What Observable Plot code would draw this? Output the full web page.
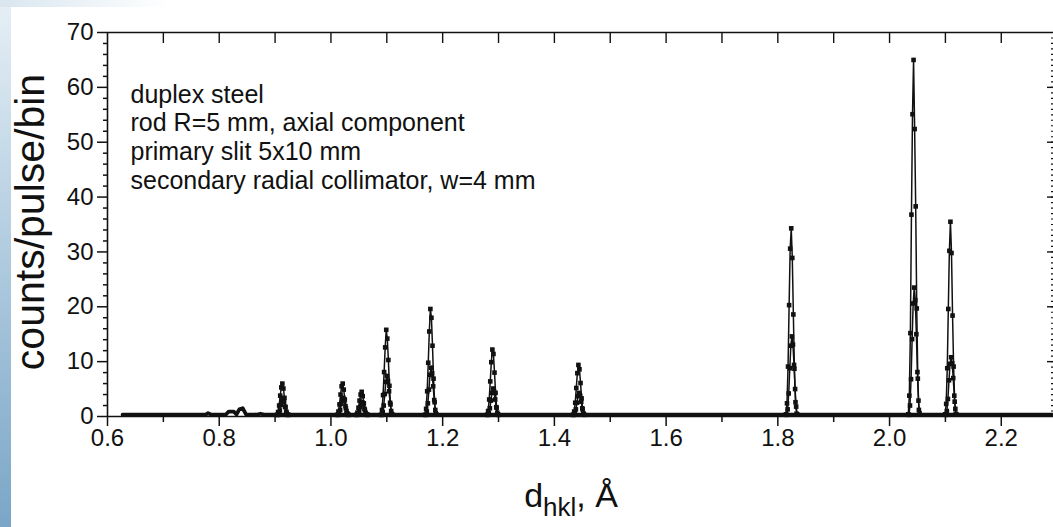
<!DOCTYPE html>
<html><head><meta charset="utf-8">
<script src="https://cdn.jsdelivr.net/npm/d3@7"></script>
<script src="https://cdn.jsdelivr.net/npm/@observablehq/plot@0.6"></script>
<style>
html,body{margin:0;padding:0;background:#fff;}
#wrap{position:relative;width:1053px;height:527px;overflow:hidden;}
#chart{position:absolute;left:0;top:0;}
#strip{position:absolute;left:0;top:0;width:11px;height:527px;background:linear-gradient(#e6eff5,#b9d1e3 40%,#7aa6c7);}
#topstrip{position:absolute;left:0;top:0;width:170px;height:7px;background:linear-gradient(90deg,#d9e6ef,rgba(255,255,255,0));}
</style></head>
<body><div id="wrap"><div id="chart"></div><div id="strip"></div><div id="topstrip"></div></div>
<script>
// ---- tick labels / axes ----
const xTicksMajor = [0.6, 0.8, 1.0, 1.2, 1.4, 1.6, 1.8, 2.0, 2.2];
const xTicksMinor = [0.7, 0.9, 1.1, 1.3, 1.5, 1.7, 1.9, 2.1];
const xTicksTop = [0.7, 0.8, 0.9, 1.0, 1.1, 1.2, 1.3, 1.4, 1.5, 1.6, 1.7, 1.8, 1.9, 2.0, 2.1, 2.2];
const yTicksMajor = [0, 10, 20, 30, 40, 50, 60, 70];
const yTicksMinor = [2, 4, 6, 8, 12, 14, 16, 18, 22, 24, 26, 28, 32, 34, 36, 38, 42, 44, 46, 48, 52, 54, 56, 58, 62, 64, 66, 68];
const yTicksRightMinor = d3.range(1, 70, 1);

const xLabelMain = "d", xLabelSub = "hkl", xLabelTail = ", Å";
const yLabel = "counts/pulse/bin";
const annotationLines = [
  "duplex steel",
  "rod R=5 mm, axial component",
  "primary slit 5x10 mm",
  "secondary radial collimator, w=4 mm"
];

// ---- data ----
// background level between reflections (d, counts)
const backgroundD =      [0.627, 0.776, 0.780, 0.785, 0.812, 0.817, 0.826, 0.831, 0.836, 0.842, 0.848, 0.868, 0.874, 0.880, 2.2935];
const backgroundCounts = [0.35,  0.35,  0.6,   0.35,  0.35,  0.9,   0.9,   0.4,   1.3,   1.5,   0.4,   0.35,  0.5,   0.35,  0.35];

// peak bins (bin width in d), centre bin is index 5
const binWidth = 0.0019;
const peakCenters = [0.913, 1.021, 1.055, 1.099, 1.178, 1.289, 1.443, 1.824, 2.043, 2.109];

// scan A counts per bin
const scanA = [
  [0.3, 0.8, 2.0, 3.8, 5.3, 6.0, 5.1, 3.4, 1.7, 0.7, 0.3],
  [0.3, 0.9, 2.2, 4.0, 5.5, 6.0, 4.9, 3.1, 1.5, 0.6, 0.3],
  [0.3, 0.7, 1.6, 2.9, 4.0, 4.5, 3.7, 2.4, 1.2, 0.5, 0.3],
  [0.3, 1.2, 3.9, 8.1, 12.6, 15.8, 14.2, 10.3, 5.6, 2.2, 0.5],
  [0.3, 1.4, 4.6, 9.8, 15.5, 19.6, 18.0, 12.9, 6.9, 2.6, 0.6],
  [0.3, 1.0, 3.1, 6.4, 9.9, 12.2, 11.4, 8.0, 4.3, 1.6, 0.4],
  [0.3, 0.9, 2.5, 5.2, 7.9, 9.4, 8.6, 6.1, 3.3, 1.3, 0.4],
  [0.4, 2.4, 9.1, 20.3, 30.6, 34.3, 28.9, 18.6, 8.7, 2.6, 0.5],
  [0.4, 3.8, 15.2, 36.8, 55.1, 65.0, 52.4, 38.3, 19.7, 6.9, 1.2],
  [0.4, 2.3, 8.8, 19.6, 30.2, 35.5, 29.8, 18.4, 9.1, 2.7, 0.5]
];
// scan B counts per bin (slightly shifted)
const scanBShift = 0.0012;
const scanB = [
  [0.3, 0.5, 1.1, 2.1, 2.9, 3.2, 2.7, 1.8, 0.9, 0.4, 0.3],
  [0.3, 0.5, 1.2, 2.3, 3.1, 3.4, 2.8, 1.9, 1.0, 0.5, 0.3],
  [0.3, 0.4, 0.9, 1.7, 2.3, 2.6, 2.2, 1.4, 0.7, 0.4, 0.3],
  [0.3, 0.8, 2.0, 4.1, 6.3, 7.4, 6.5, 4.6, 2.5, 1.0, 0.4],
  [0.3, 0.9, 2.4, 4.9, 7.6, 8.9, 7.9, 5.5, 3.0, 1.2, 0.4],
  [0.3, 0.6, 1.5, 2.9, 4.3, 5.1, 4.5, 3.1, 1.7, 0.7, 0.3],
  [0.3, 0.6, 1.3, 2.5, 3.7, 4.3, 3.8, 2.7, 1.5, 0.6, 0.3],
  [0.3, 1.3, 4.2, 8.8, 12.9, 14.6, 13.1, 9.4, 5.0, 1.8, 0.4],
  [0.3, 2.0, 6.8, 14.1, 20.6, 23.5, 21.2, 15.0, 8.1, 2.9, 0.6],
  [0.3, 1.0, 3.2, 6.6, 9.6, 10.8, 9.7, 7.0, 3.8, 1.4, 0.4]
];

// ---- build tables ----
const background = backgroundD.map((d, i) => ({d, counts: backgroundCounts[i]}));
const peakRows = [];
[["A", scanA, 0], ["B", scanB, scanBShift]].forEach(([name, scan, shift]) => {
  scan.forEach((counts, p) => {
    const start = peakCenters[p] + shift - 5 * binWidth;
    counts.forEach((c, j) => peakRows.push({d: start + j * binWidth, counts: c, key: name + p}));
  });
});

const font = "Arial, 'Liberation Sans', Helvetica, sans-serif";
const ink = "#111";

const plot = Plot.plot({
  width: 1053,
  height: 527,
  marginLeft: 107,
  marginRight: 0,
  marginTop: 32,
  marginBottom: 111,
  style: {fontFamily: font, fontSize: "24px", color: ink, background: "transparent"},
  x: {domain: [0.6, 2.2935], label: null},
  y: {domain: [0, 70], label: null},
  marks: [
    Plot.line(background, {x: "d", y: "counts", stroke: ink, strokeWidth: 3.8}),
    Plot.line(peakRows, {x: "d", y: "counts", z: "key", stroke: ink, strokeWidth: 1.5}),
    Plot.dot(peakRows, {x: "d", y: "counts", symbol: "square", r: 2.6, fill: ink, stroke: "none"}),
    Plot.ruleY([0], {stroke: ink, strokeWidth: 1.6}),
    Plot.ruleY([70], {stroke: ink, strokeWidth: 1.4}),
    Plot.ruleX([0.6], {stroke: ink, strokeWidth: 1.6}),
    Plot.axisX({ticks: xTicksMajor, anchor: "bottom", tickSize: 10, tickPadding: 2, tickFormat: d => d.toFixed(1), fontSize: 24, strokeWidth: 1.5, label: null}),
    Plot.axisX({ticks: xTicksMinor, anchor: "bottom", tickSize: 6, tickFormat: () => "", strokeWidth: 1.5, label: null}),
    Plot.axisY({ticks: yTicksMajor, anchor: "left", tickSize: 10, tickPadding: 4, fontSize: 24, strokeWidth: 1.5, label: null}),
    Plot.axisY({ticks: yTicksMinor, anchor: "left", tickSize: 4, tickFormat: () => "", strokeWidth: 1.5, label: null}),
    Plot.tickX(xTicksTop, {x: d => d, insetBottom: 373, stroke: ink, strokeWidth: 1.4}),
    Plot.tickY(yTicksMajor.slice(1, -1), {y: d => d, insetLeft: 940, stroke: ink, strokeWidth: 1.4}),
    Plot.tickY(yTicksRightMinor, {y: d => d, insetLeft: 944, stroke: ink, strokeWidth: 1.2}),
    Plot.text([annotationLines.join("\n")], {frameAnchor: "top-left", dx: 23, dy: 50, lineAnchor: "top", textAnchor: "start", lineHeight: 1.145, fontSize: 25, fill: ink})
  ]
});

const svg = d3.select(plot);
svg.append("text")
  .attr("transform", "translate(44,222) rotate(-90)")
  .attr("text-anchor", "middle")
  .attr("font-family", font)
  .attr("font-size", 41)
  .attr("fill", ink)
  .text(yLabel);
const xl = svg.append("text")
  .attr("x", 571).attr("y", 507)
  .attr("text-anchor", "middle")
  .attr("font-family", font)
  .attr("font-size", 34)
  .attr("fill", ink);
xl.append("tspan").text(xLabelMain);
xl.append("tspan").attr("font-size", 26).attr("dy", 9).text(xLabelSub);
xl.append("tspan").attr("font-size", 34).attr("dy", -9).text(xLabelTail);

document.getElementById("chart").appendChild(plot);
</script></body></html>
